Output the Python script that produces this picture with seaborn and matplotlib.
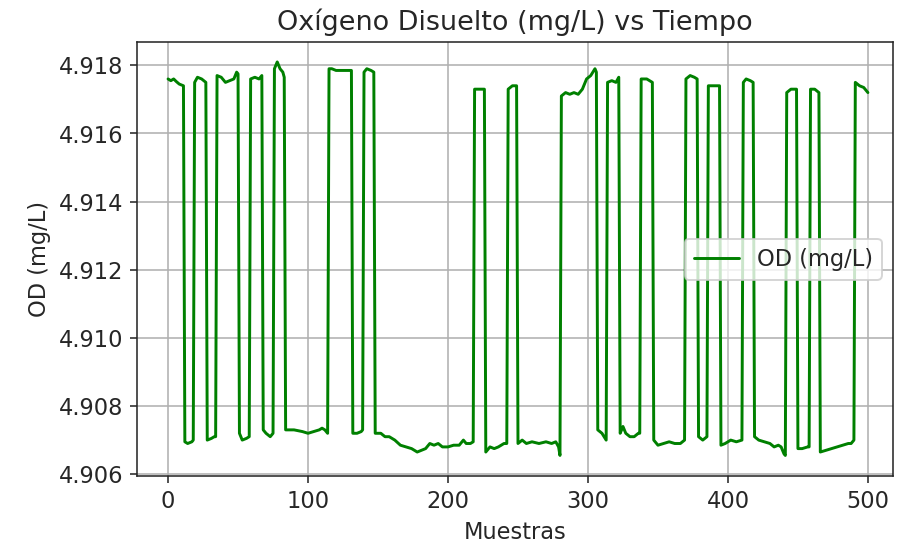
import matplotlib
matplotlib.use("Agg")
import matplotlib.pyplot as plt
import seaborn as sns
from matplotlib.ticker import FormatStrFormatter

# 読み取ったサンプル点（Muestras, OD）
muestras = [
    0, 2, 4, 6, 8, 11,
    12, 14, 17, 18,
    19, 21, 24, 27,
    28, 31, 33, 34,
    35, 38, 41, 44, 47, 49, 50,
    51, 53, 56, 58,
    59, 62, 65, 67,
    68, 70, 73, 75,
    76, 78, 80, 82, 83,
    84, 90, 96, 100, 104, 108, 110, 112, 114,
    115, 117, 120, 125, 131,
    132, 135, 138, 139,
    140, 142, 145, 147,
    148, 152, 155, 158, 162, 166, 170, 174, 178, 181, 184, 187, 190, 193, 196,
    200, 204, 208, 211, 213, 216, 218,
    219, 222, 226,
    227, 230, 233, 236, 240, 242,
    243, 246, 249,
    250, 253, 256, 260, 265, 270, 274, 277, 279, 280,
    281, 284, 287, 290, 293, 296, 299, 302, 305, 306,
    307, 310, 313,
    314, 317, 320, 322,
    323, 325, 327, 330, 333, 336, 337,
    338, 342, 346,
    347, 350, 354, 358, 362, 366, 369,
    370, 373, 376, 378,
    379, 382, 385,
    386, 390, 394,
    395, 398, 402, 406, 410,
    411, 413, 416, 418,
    419, 422, 426, 430, 433, 436, 438, 440, 441,
    442, 445, 449,
    450, 453, 457, 458,
    459, 462, 465,
    466, 470, 474, 478, 482, 486, 488, 490,
    491, 494, 497, 500,
]
od = [
    4.9176, 4.91755, 4.9176, 4.91752, 4.91745, 4.9174,
    4.90695, 4.9069, 4.90695, 4.9070,
    4.9175, 4.91765, 4.9176, 4.9175,
    4.9070, 4.90705, 4.9071, 4.9071,
    4.9177, 4.91765, 4.9175, 4.91755, 4.9176, 4.9178, 4.91775,
    4.9072, 4.9070, 4.90705, 4.9071,
    4.9176, 4.91765, 4.9176, 4.9177,
    4.9073, 4.9072, 4.9071, 4.9072,
    4.9179, 4.9181, 4.9179, 4.9178, 4.91765,
    4.9073, 4.9073, 4.90725, 4.9072, 4.90725, 4.9073, 4.90735, 4.9073, 4.9072,
    4.9179, 4.9179, 4.91785, 4.91785, 4.91785,
    4.9072, 4.9072, 4.90725, 4.9073,
    4.9178, 4.9179, 4.91785, 4.9178,
    4.9072, 4.9072, 4.9071, 4.9071, 4.9070, 4.90685, 4.9068, 4.90675, 4.90665,
    4.9067, 4.90675, 4.9069, 4.90685, 4.9069, 4.9068,
    4.9068, 4.90685, 4.90685, 4.9070, 4.9069, 4.9069, 4.90695,
    4.9173, 4.9173, 4.9173,
    4.90665, 4.9068, 4.90675, 4.9068, 4.9069, 4.9069,
    4.9173, 4.9174, 4.9174,
    4.9069, 4.9070, 4.9069, 4.90695, 4.9069, 4.90695, 4.9069, 4.90695, 4.9068, 4.90655,
    4.9171, 4.9172, 4.91715, 4.9172, 4.91715, 4.9173, 4.9176, 4.9177, 4.9179, 4.9178,
    4.9073, 4.9072, 4.9070,
    4.9175, 4.91755, 4.9175, 4.91765,
    4.9072, 4.9074, 4.9072, 4.9071, 4.9071, 4.9072, 4.9072,
    4.9176, 4.9176, 4.9175,
    4.9070, 4.90685, 4.9069, 4.90695, 4.9069, 4.9069, 4.9070,
    4.9176, 4.9177, 4.91765, 4.9176,
    4.9071, 4.9070, 4.9071,
    4.9174, 4.9174, 4.9174,
    4.90685, 4.9069, 4.9070, 4.90695, 4.9070,
    4.9175, 4.9176, 4.91755, 4.9175,
    4.9071, 4.9070, 4.90695, 4.9069, 4.9068, 4.90685, 4.9068, 4.9066, 4.90655,
    4.9172, 4.9173, 4.9173,
    4.90675, 4.90675, 4.9068, 4.9068,
    4.9173, 4.9173, 4.9172,
    4.90665, 4.9067, 4.90675, 4.9068, 4.90685, 4.9069, 4.9069, 4.9070,
    4.9175, 4.9174, 4.91735, 4.9172,
]

sns.set_style("ticks")
plt.rcParams["font.family"] = ["DejaVu Sans"]
plt.rcParams["font.size"] = 11.5

fig, ax = plt.subplots(figsize=(6.4, 3.884), dpi=141.1)
sns.lineplot(x=muestras, y=od, color="green", linewidth=1.5,
             label="OD (mg/L)", ax=ax)

ax.set_title("Oxígeno Disuelto (mg/L) vs Tiempo", fontsize=13.8)
ax.set_xlabel("Muestras", fontsize=11.5)
ax.set_ylabel("OD (mg/L)", fontsize=11.5)
ax.set_xlim(-22, 518)
ax.set_ylim(4.90594, 4.91868)
ax.set_xticks([0, 100, 200, 300, 400, 500])
ax.set_yticks([4.906, 4.908, 4.910, 4.912, 4.914, 4.916, 4.918])
ax.yaxis.set_major_formatter(FormatStrFormatter("%.3f"))
ax.tick_params(labelsize=11.5)
ax.grid(True, color="#b0b0b0", linewidth=0.8)
ax.legend(loc="center right", fontsize=11.5)

fig.subplots_adjust(left=0.152, right=0.989, top=0.923, bottom=0.131)
fig.savefig("out.png", dpi=141.1)
